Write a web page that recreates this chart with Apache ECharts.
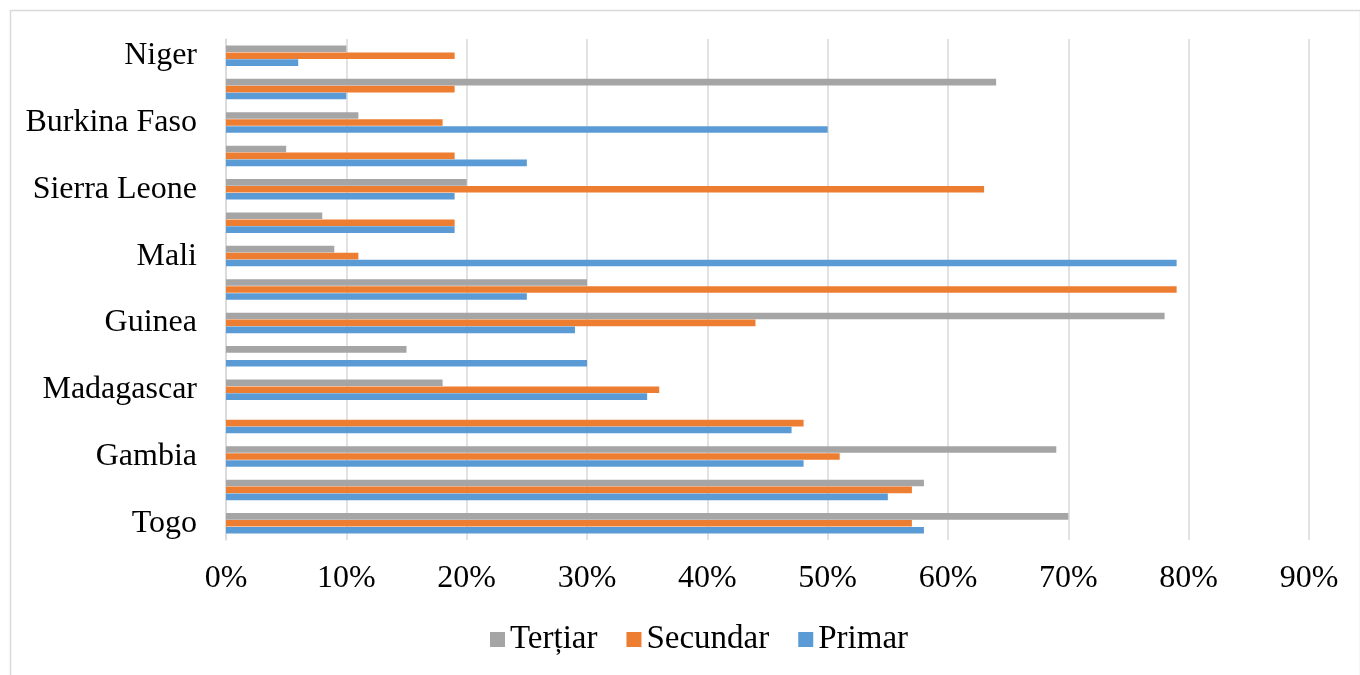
<!DOCTYPE html>
<html>
<head>
<meta charset="utf-8">
<script src="https://cdn.jsdelivr.net/npm/echarts@6/dist/echarts.min.js"></script>
<style>html,body{margin:0;padding:0;background:#fff}#c{width:1360px;height:675px}</style>
</head>
<body>
<div id="c"></div>
<script>
// Categories bottom to top (only every other label is shown in the source)
var categories = ['Togo', '', 'Gambia', '', 'Madagascar', '', 'Guinea', '', 'Mali', '', 'Sierra Leone', '', 'Burkina Faso', '', 'Niger'];
var primar   = [0.58, 0.55, 0.48, 0.47, 0.35, 0.30, 0.29, 0.25, 0.79, 0.19, 0.19, 0.25, 0.50, 0.10, 0.06];
var secundar = [0.57, 0.57, 0.51, 0.48, 0.36, 0.00, 0.44, 0.79, 0.11, 0.19, 0.63, 0.19, 0.18, 0.19, 0.19];
var tertiar  = [0.70, 0.58, 0.69, 0.00, 0.18, 0.15, 0.78, 0.30, 0.09, 0.08, 0.20, 0.05, 0.11, 0.64, 0.10];
var xTicks = [0, 0.1, 0.2, 0.3, 0.4, 0.5, 0.6, 0.7, 0.8, 0.9];

var font = '"Liberation Serif", "Times New Roman", serif';
var chart = echarts.init(document.getElementById('c'), null, {renderer: 'canvas'});
chart.setOption({
  animation: false,
  backgroundColor: '#fff',
  graphic: [{
    type: 'rect', left: 8, top: 8,
    shape: {width: 1350, height: 700},
    style: {fill: 'none', stroke: '#d9d9d9', lineWidth: 1.5}
  }],
  grid: {left: 226, right: 51, top: 39, bottom: 135, containLabel: false},
  legend: {
    bottom: 14, left: 485,
    itemWidth: 15, itemHeight: 15, itemGap: 29,
    icon: 'rect',
    data: ['Terțiar', 'Secundar', 'Primar'],
    textStyle: {fontFamily: font, fontSize: 33, color: '#000'}
  },
  xAxis: {
    type: 'value', min: 0, max: xTicks[xTicks.length - 1], interval: 0.1,
    axisLine: {show: false}, axisTick: {show: false},
    splitLine: {show: true, lineStyle: {color: '#d9d9d9', width: 1.5}},
    axisLabel: {
      fontFamily: font, fontSize: 32, color: '#000', margin: 23,
      formatter: function (v) { return Math.round(v * 100) + '%'; }
    }
  },
  yAxis: {
    type: 'category', data: categories,
    axisLine: {show: true, lineStyle: {color: '#d9d9d9', width: 1.5}},
    axisTick: {show: false},
    axisLabel: {interval: 1, fontFamily: font, fontSize: 32, color: '#000', margin: 29}
  },
  series: [
    {name: 'Terțiar', type: 'bar', data: tertiar, barWidth: 6.6, barGap: '5%', itemStyle: {color: '#a5a5a5'}},
    {name: 'Secundar', type: 'bar', data: secundar, barWidth: 6.6, barGap: '5%', itemStyle: {color: '#ed7d31'}},
    {name: 'Primar', type: 'bar', data: primar, barWidth: 6.6, barGap: '5%', itemStyle: {color: '#5b9bd5'}}
  ]
});
</script>
</body>
</html>
